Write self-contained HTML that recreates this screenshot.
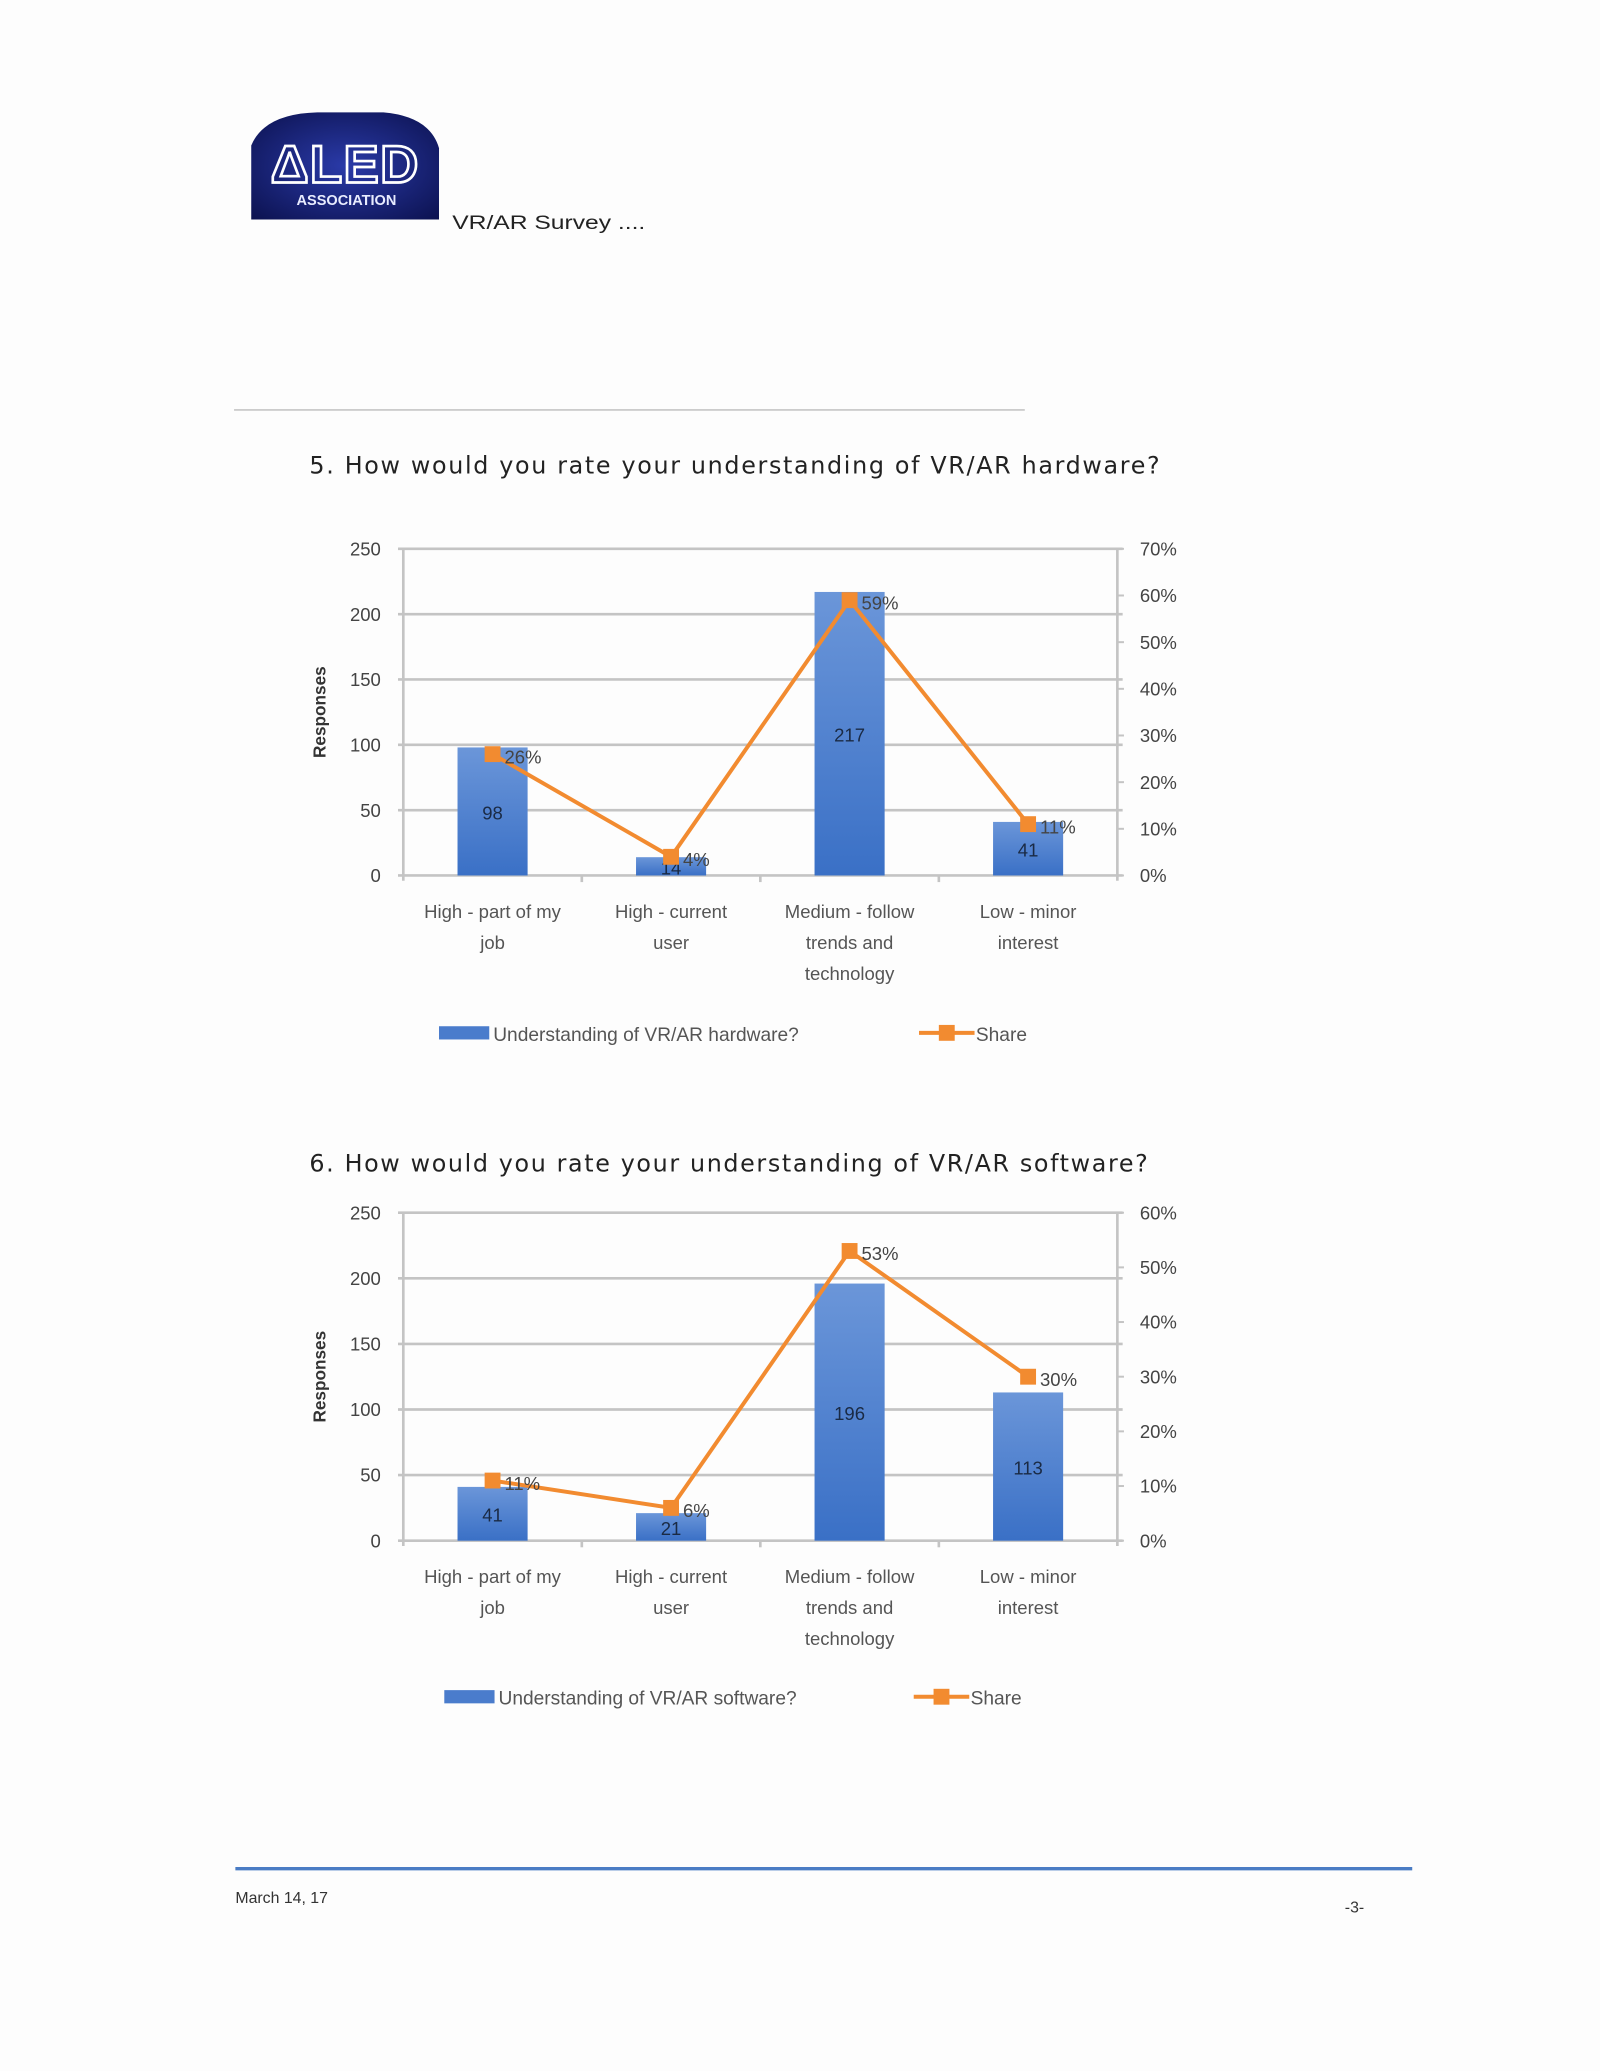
<!DOCTYPE html>
<html><head><meta charset="utf-8"><style>
html,body{margin:0;padding:0;background:#fdfdfd;}
svg{display:block;font-family:"Liberation Sans",sans-serif;}
</style></head><body>
<svg id="page" width="1600" height="2071" viewBox="0 0 1210 1566" preserveAspectRatio="none" xmlns="http://www.w3.org/2000/svg">
<defs>
<linearGradient id="barg" x1="0" y1="0" x2="0" y2="1"><stop offset="0" stop-color="#6b96d9"/><stop offset="1" stop-color="#3a70c6"/></linearGradient>
<radialGradient id="logog" cx="0.5" cy="0.5" r="0.7"><stop offset="0" stop-color="#2a3aa8"/><stop offset="1" stop-color="#0c1250"/></radialGradient>
</defs>
<rect width="1210" height="1566" fill="#fdfdfd"/>
<g>
<path d="M190,166 L190,110 Q200,86 240,85 L290,85 Q325,88 332,112 L332,166 Z" fill="url(#logog)"/>
<text x="261" y="138" text-anchor="middle" font-size="40" font-weight="bold" fill="none" stroke="#fff" stroke-width="2" letter-spacing="1">ΔLED</text>
<text x="262" y="155" text-anchor="middle" font-size="11" font-weight="bold" fill="#e8ecff">ASSOCIATION</text>
</g>
<text x="342" y="173" font-size="15" fill="#222" textLength="146" lengthAdjust="spacingAndGlyphs">VR/AR Survey ....</text>
<line x1="177" y1="310" x2="775" y2="310" stroke="#bbb" stroke-width="1"/>
<text x="234" y="358" font-size="18" fill="#222" font-family="DejaVu Sans, sans-serif" textLength="643" lengthAdjust="spacing">5.  How would you rate your understanding of VR/AR hardware?</text>
<text x="234" y="886" font-size="18" fill="#222" font-family="DejaVu Sans, sans-serif" textLength="634" lengthAdjust="spacing">6.  How would you rate your understanding of VR/AR software?</text>
<g id="c1"></g>
<g id="c2"></g>
<line x1="178" y1="1413" x2="1068" y2="1413" stroke="#4a7cc4" stroke-width="2.5"/>
<text x="178" y="1439" font-size="12" fill="#333">March 14, 17</text>
<text x="1017" y="1446" font-size="12" fill="#333">-3-</text>
</svg>
<script>
const categories = [["High - part of my","job"],["High - current","user"],["Medium - follow","trends and","technology"],["Low - minor","interest"]];
const hwValues = [98, 14, 217, 41];
const hwShare = [26, 4, 59, 11];
const swValues = [41, 21, 196, 113];
const swShare = [11, 6, 53, 30];
const leftTicks = [0, 50, 100, 150, 200, 250];
const hwRightTicks = [0, 10, 20, 30, 40, 50, 60, 70];
const swRightTicks = [0, 10, 20, 30, 40, 50, 60];
const NS = "http://www.w3.org/2000/svg";
function el(parent, tag, attrs, text){const e=document.createElementNS(NS,tag);for(const k in attrs)e.setAttribute(k,attrs[k]);if(text!=null)e.textContent=text;parent.appendChild(e);return e;}
function chart(g, top, bottom, vals, share, rTicks, legendLabel, legY){
  const L=305,R=845,lMax=250,rMax=rTicks[rTicks.length-1];
  const y=v=>bottom-(bottom-top)*v/lMax;
  const yr=p=>bottom-(bottom-top)*p/rMax;
  const step=(R-L)/categories.length;
  const x=i=>L+step*(i+0.5);
  leftTicks.forEach(t=>{
    const ln=el(g,'line',{x1:L-4,x2:R+4,y1:y(t),y2:y(t),stroke:'#c4c4c4','stroke-width':2});
    
    
    const tx=el(g,'text',{x:288,y:y(t)+5,'text-anchor':'end','font-size':14,fill:'#444'},String(t));
    
    
  });
  el(g,'line',{x1:L,x2:L,y1:top,y2:bottom+4,stroke:'#c4c4c4','stroke-width':2});
  el(g,'line',{x1:R,x2:R,y1:top,y2:bottom+4,stroke:'#c4c4c4','stroke-width':2});
  for(let i=1;i<categories.length;i++) el(g,'line',{x1:L+step*i,x2:L+step*i,y1:bottom,y2:bottom+5,stroke:'#c4c4c4','stroke-width':2});
  rTicks.forEach(t=>{
    el(g,'line',{x1:R,x2:R+5,y1:yr(t),y2:yr(t),stroke:'#c4c4c4','stroke-width':1.5});
    const tx=el(g,'text',{x:862,y:yr(t)+5,'font-size':14,fill:'#444'},t+'%');
    
    
  });
  const yt=el(g,'text',{x:0,y:0,'font-size':13,'font-weight':'bold',fill:'#333','text-anchor':'middle',transform:`translate(246,${(top+bottom)/2}) rotate(-90)`},'Responses');
  
  
  const bw=53;
  vals.forEach((v,i)=>{
    const b=el(g,'rect',{x:x(i)-bw/2,y:y(v),width:bw,height:bottom-y(v),fill:'url(#barg)'});
    
    
    const t=el(g,'text',{x:x(i),y:(y(v)+bottom)/2+6,'text-anchor':'middle','font-size':14,fill:'#1a2a44'},String(v));
    
    
  });
  el(g,'polyline',{points:share.map((p,i)=>x(i)+','+yr(p)).join(' '),fill:'none',stroke:'#f28b30','stroke-width':3});
  share.forEach((p,i)=>{
    const m=el(g,'rect',{x:x(i)-6,y:yr(p)-6,width:12,height:12,fill:'#f28b30'});
    
    
    const t=el(g,'text',{x:x(i)+9,y:yr(p)+7,'font-size':14,fill:'#444'},p+'%');
    
    
  });
  categories.forEach((c,i)=>c.forEach((line,j)=>{
    const t=el(g,'text',{x:x(i),y:bottom+32+j*23.5,'text-anchor':'middle','font-size':14,fill:'#555'},line);
    
    
  }));
  const lg=el(g,'g',{});
  
  
  const lx = legendLabel.indexOf('hardware')>0 ? 332 : 336;
  el(lg,'rect',{x:lx,y:legY-5,width:38,height:10,fill:'#4a7ccc'});
  el(lg,'text',{x:lx+41,y:legY+6,'font-size':14.5,fill:'#555'},legendLabel);
  const ox = legendLabel.indexOf('hardware')>0 ? 695 : 691;
  el(lg,'line',{x1:ox,x2:ox+42,y1:legY,y2:legY,stroke:'#f28b30','stroke-width':3});
  el(lg,'rect',{x:ox+15,y:legY-6,width:12,height:12,fill:'#f28b30'});
  el(lg,'text',{x:ox+43,y:legY+6,'font-size':14.5,fill:'#555'},'Share');
}
chart(document.getElementById('c1'),415,662,hwValues,hwShare,hwRightTicks,'Understanding of VR/AR hardware?',781);
chart(document.getElementById('c2'),917,1165,swValues,swShare,swRightTicks,'Understanding of VR/AR software?',1283);
</script>
</body></html>
